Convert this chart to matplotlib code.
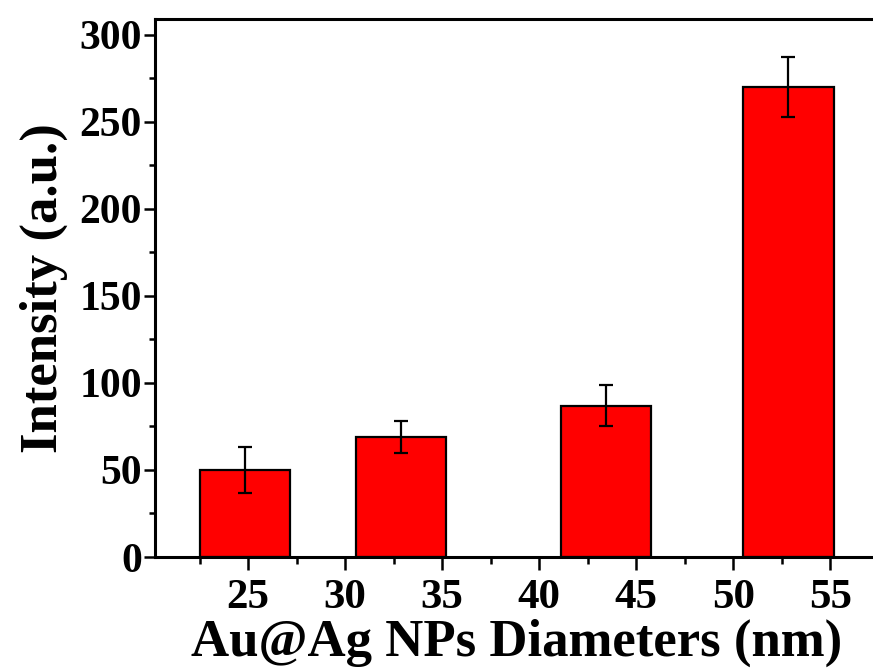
import matplotlib.pyplot as plt
from matplotlib.ticker import MultipleLocator

# values
diam_pos = [24.85, 32.9, 43.45, 52.85]
intensity = [50, 69, 87, 270]
intensity_err = [13, 9, 12, 17]
bar_width = 4.65

plt.rcParams["font.family"] = ["Liberation Serif", "DejaVu Serif"]
plt.rcParams["font.weight"] = "bold"

fig = plt.figure(figsize=(8.73, 6.69), dpi=100)
ax = fig.add_axes([0.1775, 0.1674, 0.829, 0.804])

ax.bar(diam_pos, intensity, width=bar_width, color="#ff0000",
       edgecolor="black", linewidth=1.6, zorder=2)
ax.errorbar(diam_pos, intensity, yerr=intensity_err, fmt="none",
            ecolor="black", elinewidth=1.6, capsize=5, capthick=1.6, zorder=3)

ax.set_xlim(20.2, 57.5)
ax.set_ylim(0, 309)
ax.xaxis.set_major_locator(MultipleLocator(5))
ax.xaxis.set_minor_locator(MultipleLocator(2.5))
ax.yaxis.set_major_locator(MultipleLocator(50))
ax.yaxis.set_minor_locator(MultipleLocator(25))
ax.set_xticks([25, 30, 35, 40, 45, 50, 55])

for side in ["left", "bottom", "top"]:
    ax.spines[side].set_linewidth(2.2)
ax.spines["right"].set_visible(False)

ax.tick_params(axis="x", which="major", direction="out", length=9, width=1.8,
               labelsize=31, pad=7)
ax.tick_params(axis="x", which="minor", direction="out", length=5, width=1.8)
ax.tick_params(axis="y", which="major", direction="out", length=8, width=1.8,
               labelsize=30, pad=1.5)
ax.tick_params(axis="y", which="minor", direction="out", length=4.5, width=1.8)

ax.set_xlabel("Au@Ag NPs Diameters (nm)", fontsize=38, fontweight="bold",
              labelpad=1)
ax.set_ylabel("Intensity (a.u.)", fontsize=38, fontweight="bold", labelpad=8)

fig.savefig("out.png", dpi=100)
